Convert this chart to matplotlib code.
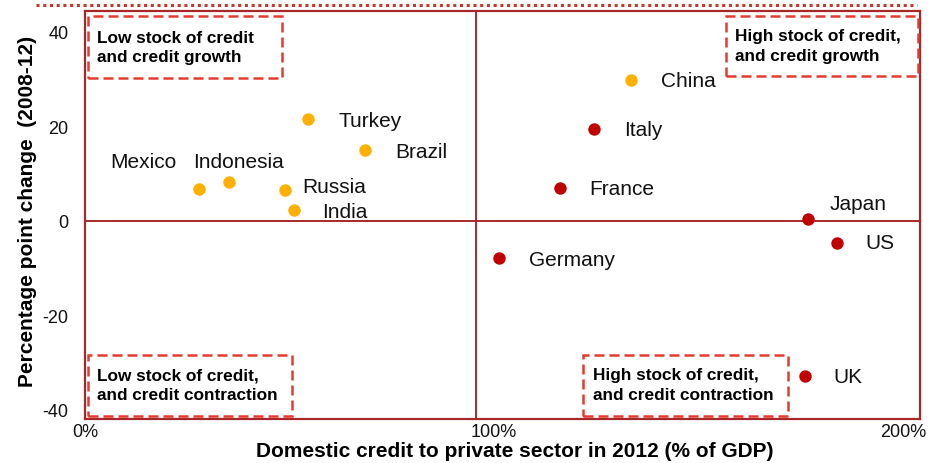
#私营部门信贷存量与信贷增长
import numpy as np
import matplotlib.pyplot as plt
from matplotlib.patches import Rectangle
from matplotlib.lines import Line2D

plt.rcParams['font.family'] = ['Liberation Sans', 'DejaVu Sans']

#新兴市场（橙色）
em_names = ["Mexico", "Indonesia", "Russia", "India", "Turkey", "Brazil", "China"]
em_credit = [27.9, 35.2, 49.0, 51.2, 54.6, 68.5, 133.5]
em_change = [6.7, 8.2, 6.5, 2.3, 21.6, 15.0, 29.7]

#发达经济体（红色）
dm_names = ["Italy", "France", "Germany", "Japan", "US", "UK"]
dm_credit = [124.5, 116.1, 101.2, 176.8, 183.8, 176.0]
dm_change = [19.4, 6.9, -8.0, 0.4, -4.7, -32.8]

x_ticks = [0, 100, 200]
x_ticklabels = ["0%", "100%", "200%"]
y_ticks = [-40, -20, 0, 20, 40]
y_ticklabels = ["-40", "-20", "0", "20", "40"]
x_cross = 95.6  #纵轴交叉位置

quad_text = ["Low stock of credit\nand credit growth",
             "High stock of credit,\nand credit growth",
             "Low stock of credit,\nand credit contraction",
             "High stock of credit,\nand credit contraction"]

#标签偏移（点）
label_offset = {
    "Mexico": (-64, 20), "Indonesia": (-26, 15), "Russia": (12, 2.5),
    "India": (20, -1), "Turkey": (21.5, -1), "Brazil": (21.5, -1),
    "China": (21.5, 0), "Italy": (21.5, -0.5), "France": (21.5, 0),
    "Germany": (21.5, -0.5), "Japan": (15.5, 11), "US": (21, 0), "UK": (21, -0.5),
}

frame_c = "#A8282A"
box_c = "#E63A2E"

fig = plt.figure(figsize=(9.4, 4.64), dpi=100)
ax = fig.add_axes([85/940, 1-420/464, 835/940, 408/464])

ax.scatter(em_credit, em_change, s=80, c="#FFB000", zorder=3, linewidths=0)
ax.scatter(dm_credit, dm_change, s=80, c="#C00000", zorder=3, linewidths=0)

for n, x, y in zip(em_names + dm_names, em_credit + dm_credit, em_change + dm_change):
    dx, dy = label_offset[n]
    ax.annotate(n, (x, y), xytext=(dx, dy), textcoords="offset points",
                ha="left", va="center", fontsize=15, color="#111111")

ax.set_xlim(0, 204.2)
ax.set_ylim(-42, 44.4)

#十字线
ax.axhline(y=0, color=frame_c, linewidth=1.4, zorder=1)
ax.axvline(x=x_cross, color=frame_c, linewidth=1.4, zorder=1)

for s in ax.spines.values():
    s.set_color(frame_c)
    s.set_linewidth(1.6)

ax.set_xticks(x_ticks)
ax.set_xticklabels(x_ticklabels)
ax.set_yticks(y_ticks)
ax.set_yticklabels(y_ticklabels)
ax.tick_params(axis="x", length=0, pad=3, labelsize=13, labelcolor="#111111")
ax.tick_params(axis="y", length=0, pad=12, labelsize=13, labelcolor="#111111")

ax.set_xlabel("Domestic credit to private sector in 2012 (% of GDP)",
              fontsize=15, fontweight="bold", va="center")
ax.xaxis.set_label_coords(0.515, -0.077)
ax.set_ylabel("Percentage point change  (2008-12)",
              fontsize=15, fontweight="bold", va="center")
ax.yaxis.set_label_coords(-0.069, 0.512)

#四个象限的虚线框
boxes = [(0.0036, 0.8358, 0.2323, 0.152), (0.7677, 0.8407, 0.2300, 0.147),
         (0.0036, 0.0070, 0.2443, 0.150), (0.5964, 0.0070, 0.2455, 0.150)]
text_pos = [(0.0144, 0.9118), (0.7784, 0.9154), (0.0144, 0.0833), (0.6084, 0.0840)]
for (bx, by, bw, bh), (tx, ty), t in zip(boxes, text_pos, quad_text):
    ax.add_patch(Rectangle((bx, by), bw, bh, transform=ax.transAxes, fill=False,
                           edgecolor=box_c, linewidth=1.8, linestyle=(0, (4, 2)),
                           zorder=4, clip_on=False))
    ax.text(tx, ty, t, transform=ax.transAxes, fontsize=12.4, fontweight="bold",
            ha="left", va="center", linespacing=1.38, zorder=5)

#顶部点线
fig.add_artist(Line2D([36/940, 917/940], [1-6/464, 1-6/464], transform=fig.transFigure,
                      color="#C0392B", linewidth=2.2, linestyle=(0, (1, 1.2))))

plt.savefig("out.png", dpi=100)
